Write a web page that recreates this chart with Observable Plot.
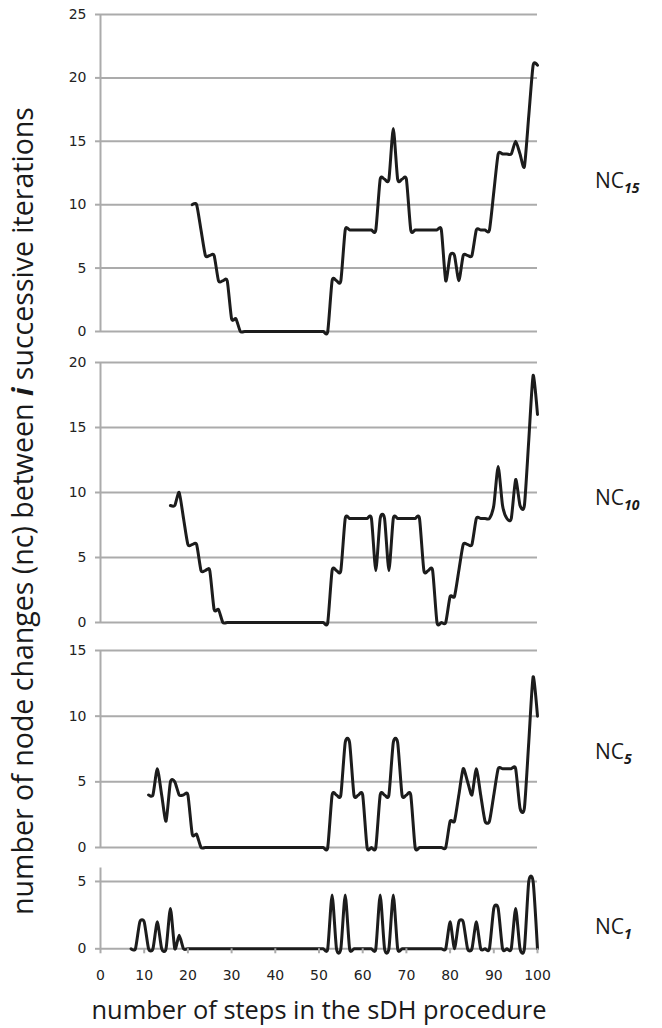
<!DOCTYPE html>
<html>
<head>
<meta charset="utf-8">
<script src="https://cdn.jsdelivr.net/npm/d3@7"></script>
<script src="https://cdn.jsdelivr.net/npm/@observablehq/plot@0.6"></script>
<style>
  html, body { margin: 0; padding: 0; background: #fff; }
  #wrap { position: relative; width: 662px; height: 1028px; overflow: hidden; }
  #wrap > svg { position: absolute; left: 0; }
</style>
</head>
<body>
<div id="wrap"></div>
<script>
// ---------- data ----------
const xTicks = [0, 10, 20, 30, 40, 50, 60, 70, 80, 90, 100];

const nc15Start = 21;
const nc15Values = [10,10,8,6,6,6,4,4,4,1,1, 0,0,0,0,0,0,0,0,0,0,0,0,0,0,0,0,0,0,0,0,0,
  4,4,4, 8,8,8,8,8,8,8,8, 12,12,12,16,12,12,12, 8,8,8,8,8,8,8,8,
  4,6,6,4,6,6,6,8,8,8,8,11,14,14,14,14,15,14,13,17,21,21];
const nc15Ticks = [0, 5, 10, 15, 20, 25];

const nc10Start = 16;
const nc10Values = [9,9,10,8,6,6,6,4,4,4,1,1,
  0,0,0,0,0,0,0,0,0,0,0,0,0,0,0,0,0,0,0,0,0,0,0,0,0,
  4,4,4, 8,8,8,8,8,8,8, 4,8,8,4, 8,8,8,8,8,8,8, 4,4,4, 0,0,0, 2,2,4,6,6,6,8,8,8,8,
  9,12,9,8,8,11,9,9,14,19,16];
const nc10Ticks = [0, 5, 10, 15, 20];

const nc5Start = 11;
const nc5Values = [4,4,6,4,2,5,5,4,4,4,1,1,
  0,0,0,0,0,0,0,0,0,0,0,0,0,0,0,0,0,0,0,0,0,0,0,0,0,0,0,0,0,0,
  4,4,4,8,8,4,4,4,0,0,0,4,4,4,8,8,4,4,4,
  0,0,0,0,0,0,0,0, 2,2,4,6,5,4,6,4,2,2,4,6,6,6,6,6,3,3,8,13,10];
const nc5Ticks = [0, 5, 10, 15];

const nc1Start = 7;
const nc1Values = [0,0,2,2,0,0,2,0,0,3,0,1,
  0,0,0,0,0,0,0,0,0,0,0,0,0,0,0,0,0,0,0,0,0,0,0,0,0,0,0,0,0,0,0,0,0,0,
  4,0,0,4,0,0,0,0,0,0,0,4,0,0,4,
  0,0,0,0,0,0,0,0,0,0,0,0, 2,0,2,2,0,0,2,0,0,0,3,3,0,0,0,3,0,0,5,5,0];
const nc1Ticks = [0, 5];

const panelLabels = ["15", "10", "5", "1"];
const xTitle = "number of steps in the sDH procedure";
const yTitleA = "number of node changes (nc) between ";
const yTitleI = "i";
const yTitleB = " successive iterations";

// ---------- build ----------
function series(start, values) {
  return values.map((v, i) => ({step: start + i, nc: v}));
}

const GRID = "#ababab";
const INK = "#1c1c1c";
const TICKFONT = "'DejaVu Sans', Verdana, sans-serif";

function panel({data, yMax, ticks, top, height, marginTop, marginBottom, showX}) {
  const marks = [
    Plot.ruleY(ticks, {x1: 0, x2: 100, stroke: GRID, strokeWidth: 2}),
    Plot.ruleX([0], {stroke: GRID, strokeWidth: 2}),
    Plot.axisY({ticks, tickSize: 5, tickPadding: 9, stroke: GRID, strokeWidth: 2,
                fill: "#222", label: null, tickFormat: d => String(d)}),
    Plot.line(data, {x: "step", y: "nc", curve: "cardinal", tension: 0.35, stroke: INK,
                     strokeWidth: 3, strokeLinejoin: "round", strokeLinecap: "round"})
  ];
  if (showX) {
    marks.push(Plot.axisX({ticks: xTicks, tickSize: 5, tickPadding: 16, stroke: GRID,
                           strokeWidth: 2, fill: "#222", label: null,
                           tickFormat: d => String(d)}));
  }
  const svg = Plot.plot({
    width: 662, height, marginLeft: 100, marginRight: 125, marginTop, marginBottom,
    x: {domain: [0, 100], axis: null},
    y: {domain: [0, yMax], axis: null},
    style: {fontFamily: TICKFONT, fontSize: "14px",
            background: "transparent", overflow: "visible"},
    marks
  });
  d3.select(svg).selectAll("g[aria-label$='tick label']")
    .attr("font-size", 14).style("font-size", "14px").style("font-family", TICKFONT);
  d3.select(svg).selectAll("text")
    .attr("font-size", 14).style("font-size", "14px").style("font-family", TICKFONT);
  svg.style.top = top + "px";
  return svg;
}

const wrap = document.getElementById("wrap");
wrap.appendChild(panel({data: series(nc15Start, nc15Values), yMax: 25, ticks: nc15Ticks,
  top: 0, height: 335, marginTop: 14, marginBottom: 4}));
wrap.appendChild(panel({data: series(nc10Start, nc10Values), yMax: 20, ticks: nc10Ticks,
  top: 340, height: 286, marginTop: 22, marginBottom: 4}));
wrap.appendChild(panel({data: series(nc5Start, nc5Values), yMax: 15, ticks: nc5Ticks,
  top: 630, height: 221, marginTop: 20, marginBottom: 4}));
wrap.appendChild(panel({data: series(nc1Start, nc1Values), yMax: 6, ticks: nc1Ticks,
  top: 855, height: 173, marginTop: 12.5, marginBottom: 79.7, showX: true}));

// ---------- titles and panel labels ----------
const NS = "http://www.w3.org/2000/svg";
const ov = document.createElementNS(NS, "svg");
ov.setAttribute("width", 662);
ov.setAttribute("height", 1028);
ov.style.top = "0px";
ov.style.pointerEvents = "none";
ov.setAttribute("font-family", "'Open Sans', sans-serif");
ov.setAttribute("fill", "#1a1a1a");
wrap.appendChild(ov);

function txt(parent, attrs, s) {
  const t = document.createElementNS(NS, "text");
  for (const k in attrs) t.setAttribute(k, attrs[k]);
  if (s != null) t.textContent = s;
  parent.appendChild(t);
  return t;
}
function tspan(parent, attrs, s) {
  const t = document.createElementNS(NS, "tspan");
  for (const k in attrs) t.setAttribute(k, attrs[k]);
  t.textContent = s;
  parent.appendChild(t);
  return t;
}

const yt = txt(ov, {transform: "translate(33,511) rotate(-90)", "text-anchor": "middle", "font-size": 24});
tspan(yt, {}, yTitleA);
tspan(yt, {"font-weight": "bold", "font-style": "italic"}, yTitleI);
tspan(yt, {}, yTitleB);

const xt = txt(ov, {x: 319, y: 1019, "text-anchor": "middle", "font-size": 24}, xTitle);

function fit(el, target) {
  const fs = parseFloat(el.getAttribute("font-size"));
  const w = el.getComputedTextLength();
  if (w > 0) el.setAttribute("font-size", (fs * target / w).toFixed(2));
}
fit(yt, 808);
fit(xt, 455);

const labelBaselines = [188, 505, 759, 934];
panelLabels.forEach((sub, i) => {
  const t = txt(ov, {x: 595, y: labelBaselines[i], "font-size": 21});
  tspan(t, {}, "NC");
  tspan(t, {"font-size": 14, "font-weight": "bold", "font-style": "italic", dy: 5}, sub);
});
</script>
</body>
</html>
